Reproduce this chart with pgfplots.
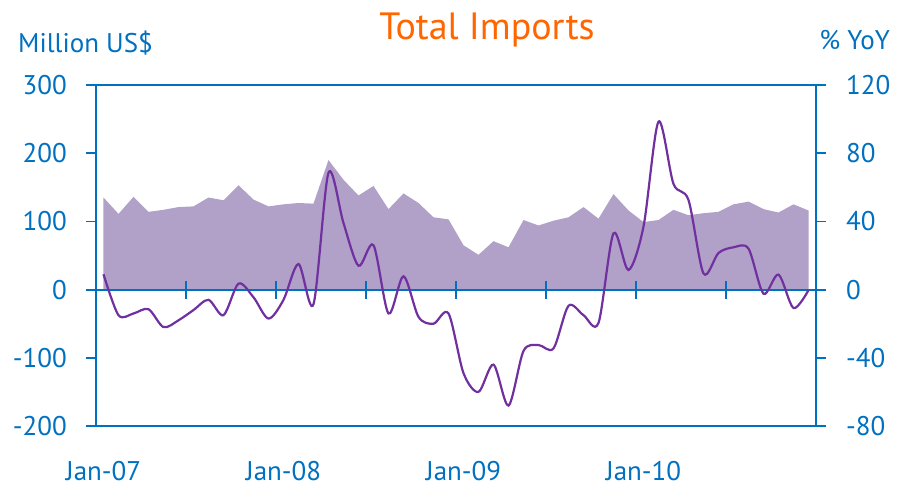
\documentclass[border=0pt]{standalone}
\usepackage{fontspec}
\setmainfont{PT Sans}
\usepackage{pgfplots}
\usepackage{pgfplotstable}
\pgfplotsset{compat=1.18}
\definecolor{axBlue}{HTML}{0070C0}
\definecolor{areaLilac}{HTML}{B1A0C7}
\definecolor{linePurple}{HTML}{7030A0}
\definecolor{titleOrange}{HTML}{FF6600}

% monthly imports, Jan-07 .. Dec-10 (index 0..47)
\pgfplotstableread{
m val
0 135
1 111
2 136
3 114
4 117
5 121
6 122
7 135
8 131
9 153
10 132
11 122
12 125
13 127
14 126
15 190
16 161
17 138
18 152
19 118
20 141
21 127
22 106
23 103
24 65
25 51
26 71
27 62
28 102
29 94
30 101
31 106
32 121
33 104
34 140
35 116
36 99
37 102
38 117
39 109
40 112
41 114
42 125
43 129
44 118
45 113
46 125
47 116
}\importsval

% year-on-year growth, %
\pgfplotstableread{
m yoy
0 9
1 -15
2 -14
3 -11.5
4 -22
5 -18
6 -12
7 -6
8 -15
9 3.5
10 -4.5
11 -17
12 -6
13 15
14 -8.5
15 68.5
16 39
17 14
18 26
19 -14
20 7.8
21 -16
22 -20
23 -14
24 -49
25 -60
26 -44
27 -68
28 -36
29 -32.5
30 -34.5
31 -9.5
32 -15
33 -19.5
34 33
35 11.5
36 37
37 98.5
38 62
39 52.5
40 9.5
41 21.5
42 24.8
43 24
44 -2.4
45 8.8
46 -10.8
47 -0.3
}\importsyoy

\newcommand{\lbl}{\fontsize{27}{31}\selectfont}

\begin{document}
\begin{tikzpicture}
\pgfplotsset{
  base/.style={
    scale only axis, width=720pt, height=341pt,
    xmin=-0.5, xmax=47.5,
    /pgf/number format/assume math mode=true,
    tick label style={font=\lbl, text=axBlue, inner sep=0pt},
    tick align=outside,
    major tick length=10pt,
    tick style={draw=axBlue, line width=1.8pt},
    axis line style={draw=axBlue, line width=2pt},
  }
}
\begin{axis}[base,
  ymin=-200, ymax=300, ytick={-200,-100,...,300}, ytick pos=left,
  xtick={0,12,24,36}, xticklabels={Jan-07,Jan-08,Jan-09,Jan-10},
  xtick pos=bottom,
  major x tick style={draw=none},
  xticklabel style={anchor=base, yshift=-44pt},
  yticklabel style={anchor=east, xshift=-19pt},
]
  \addplot[fill=areaLilac, draw=none] table[x=m, y=val] {\importsval} \closedcycle;
  % zero line with half-year ticks
  \draw[axBlue, line width=2pt] (axis cs:-0.5,0) -- (axis cs:47.5,0);
  \pgfplotsinvokeforeach{5.5,11.5,17.5,23.5,29.5,35.5,41.5}{
    \draw[axBlue, line width=1.8pt] ([yshift=-9pt]axis cs:#1,0) -- ([yshift=9pt]axis cs:#1,0);
  }
\end{axis}
\begin{axis}[base,
  ymin=-80, ymax=120, ytick={-80,-40,...,120},
  axis x line=none, axis y line*=right,
  yticklabel style={anchor=west, xshift=20pt},
]
  \addplot[linePurple, line width=2.2pt, smooth, no marks] table[x=m, y=yoy] {\importsyoy};
\end{axis}

\node[anchor=base west, inner sep=0pt, text=axBlue, font=\lbl] at (-78pt,373pt) {Million US\$};
\node[anchor=base east, inner sep=0pt, text=axBlue, font=\lbl] at (794pt,376pt) {\% YoY};
\node[anchor=base, inner sep=0pt, text=titleOrange, font=\fontsize{38}{44}\selectfont] at (391pt,386pt) {Total Imports};

\pgfresetboundingbox
\path[use as bounding box] (-96pt,-62pt) rectangle (801pt,426pt);
\end{tikzpicture}
\end{document}
